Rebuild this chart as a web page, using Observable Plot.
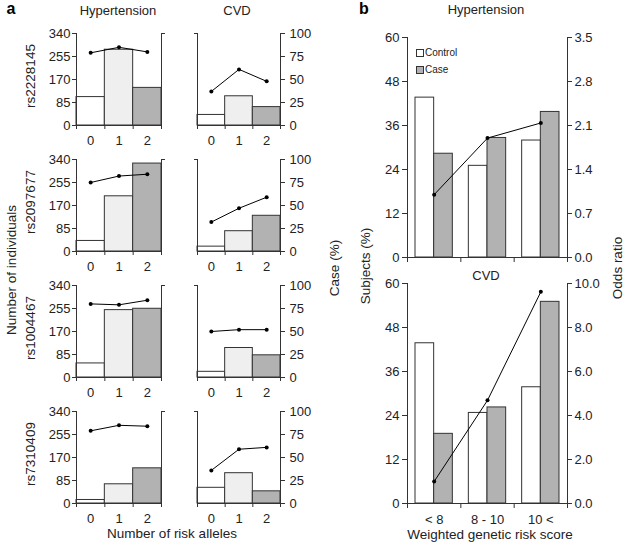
<!DOCTYPE html>
<html><head><meta charset="utf-8">
<script src="https://cdn.jsdelivr.net/npm/d3@7"></script>
<script src="https://cdn.jsdelivr.net/npm/@observablehq/plot@0.6"></script>
<style>
body{margin:0;background:#fff;}
#fig{position:relative;width:627px;height:544px;font-family:"Liberation Sans",Arial,sans-serif;color:#222;overflow:hidden;background:#fff}
.t{position:absolute;white-space:nowrap;font-size:13px;transform:translate(-50%,-50%);line-height:1}
.r{transform:translate(-50%,-50%) rotate(-90deg)}
.b{font-weight:bold;font-size:16px;color:#000}
#fig svg{position:absolute;overflow:visible}
.lg{position:absolute;font-size:10px;line-height:1;white-space:nowrap;transform:translateY(-50%)}
.sq{position:absolute;width:6px;height:6px;border:1px solid #333;transform:translateY(-50%)}
</style></head><body><div id="fig"></div>
<script>
// ---- Data ----
const snps = ["rs2228145", "rs2097677", "rs1004467", "rs7310409"];
const alleles = ["0", "1", "2"];
const hyperCounts = [[105, 280, 139], [39, 204, 325], [52, 249, 254], [13, 71, 130]];
const hyperCase = [[79, 85, 80], [75, 82, 84], [80, 79, 84], [79, 85, 84]];
const cvdCounts = [[39, 108, 68], [18, 75, 132], [21, 109, 82], [58, 112, 45]];
const cvdCase = [[37, 61, 48], [32, 47, 59], [50, 52, 52], [36, 59, 61]];
const countTicks = [0, 85, 170, 255, 340];
const caseTicks = [0, 25, 50, 75, 100];

const scoreGroups = ["< 8", "8 - 10", "10 <"];
const hyperControlPct = [43.6, 25.0, 31.9];
const hyperCasePct = [28.3, 32.6, 39.7];
const hyperOR = [1.0, 1.90, 2.14];
const cvdControlPct = [43.7, 24.7, 31.7];
const cvdCasePct = [19.0, 26.2, 55.0];
const cvdOR = [1.0, 4.69, 9.62];
const pctTicks = [0, 12, 24, 36, 48, 60];
const hyperORTicks = [0, 0.7, 1.4, 2.1, 2.8, 3.5];
const cvdORTicks = [0, 2, 4, 6, 8, 10];

// ---- Drawing ----
const fig = document.getElementById("fig");
const FONT = '"Liberation Sans", Arial, sans-serif';
const AX = "#333";
const styleBase = {background: "transparent", fontFamily: FONT, fontSize: "13px", color: "#222", overflow: "visible"};

function place(svg, left, top) {
  svg.style.left = left + "px";
  svg.style.top = top + "px";
  fig.appendChild(svg);
}
function text(str, x, y, cls = "", extra = "") {
  const d = document.createElement("div");
  d.className = "t " + cls;
  d.textContent = str;
  d.style.left = x + "px";
  d.style.top = y + "px";
  if (extra) d.style.cssText += extra;
  fig.appendChild(d);
}

function cell(counts, pct, side, fx0, fx1, fy0, fy1) {
  const mL = 40, mR = 40, mT = 8, mB = 28;
  const k = 340 / 100;
  const data = counts.map((v, i) => ({i, v, p: pct[i]}));
  const fills = ["#ffffff", "#efefef", "#b2b2b2"];
  const marks = [
    Plot.rectY(data, {x1: d => d.i, x2: d => d.i + 1, y1: 0, y2: d => d.v, fill: d => fills[d.i], stroke: AX, strokeWidth: 1}),
    Plot.ruleX([0, 3], {stroke: AX}),
    Plot.ruleY([0], {stroke: AX}),
    Plot.axisX({ticks: [0, 1, 2, 3], tickSize: 4, tickFormat: () => "", stroke: AX}),
    Plot.axisX({ticks: [0.5, 1.5, 2.5], tickSize: 0, tickPadding: 10, tickFormat: d => alleles[Math.floor(d)]}),
    Plot.line(data, {x: d => d.i + 0.5, y: d => d.p * k, stroke: "#000", strokeWidth: 1}),
    Plot.dot(data, {x: d => d.i + 0.5, y: d => d.p * k, r: 2, fill: "#000"})
  ];
  if (side === "left") {
    marks.push(Plot.axisY({anchor: "left", ticks: countTicks, tickSize: 4, tickPadding: 2, stroke: AX}));
    marks.push(Plot.axisY({anchor: "right", ticks: [340], tickSize: 3, tickFormat: () => "", stroke: AX}));
  } else {
    marks.push(Plot.axisY({anchor: "right", ticks: caseTicks.map(v => v * k), tickSize: 4, tickPadding: 5, stroke: AX, tickFormat: d => String(Math.round(d / k))}));
    marks.push(Plot.axisY({anchor: "left", ticks: [340], tickSize: 3, tickFormat: () => "", stroke: AX}));
  }
  const fw = fx1 - fx0, fh = fy1 - fy0;
  const svg = Plot.plot({
    width: fw + mL + mR, height: fh + mT + mB,
    marginLeft: mL, marginRight: mR, marginTop: mT, marginBottom: mB,
    x: {domain: [0, 3], label: null},
    y: {domain: [0, 340], label: null},
    color: {type: "identity"},
    style: styleBase,
    marks
  });
  place(svg, fx0 - mL, fy0 - mT);
}

const rowTops = [33, 159, 285, 411];
const FH = 92;
rowTops.forEach((top, r) => {
  cell(hyperCounts[r], hyperCase[r], "left", 76, 161, top, top + FH);
  cell(cvdCounts[r], cvdCase[r], "right", 197, 280, top, top + FH);
  text(snps[r], 31, top + FH / 2 - 3, "r", "font-size:13.5px");
});

function panelB(ctrl, cas, or, orMax, orTicks, fy0, fy1, showLabels) {
  const mL = 40, mR = 40, mT = 8, mB = 30;
  const fx0 = 407, fx1 = 567;
  const k = 60 / orMax;
  const data = ctrl.map((c, i) => ({i, c, s: cas[i], o: or[i]}));
  const marks = [
    Plot.rectY(data, {x1: d => d.i + 0.15, x2: d => d.i + 0.5, y1: 0, y2: d => d.c, fill: "#ffffff", stroke: AX}),
    Plot.rectY(data, {x1: d => d.i + 0.5, x2: d => d.i + 0.85, y1: 0, y2: d => d.s, fill: "#b2b2b2", stroke: AX}),
    Plot.ruleX([0, 3], {stroke: AX}),
    Plot.ruleY([0], {stroke: AX}),
    Plot.axisX({ticks: [0, 1, 2, 3], tickSize: 5, tickFormat: () => "", stroke: AX}),
    Plot.line(data, {x: d => d.i + 0.5, y: d => d.o * k, stroke: "#000", strokeWidth: 1}),
    Plot.dot(data, {x: d => d.i + 0.5, y: d => d.o * k, r: 2, fill: "#000"}),
    Plot.axisY({anchor: "left", ticks: pctTicks, tickSize: 5, tickPadding: 3, stroke: AX}),
    Plot.axisY({anchor: "right", ticks: orTicks.map(v => v * k), tickSize: 4, tickPadding: 3, stroke: AX, tickFormat: d => (d / k).toFixed(1)})
  ];
  if (showLabels) {
    marks.push(Plot.axisX({ticks: [0.5, 1.5, 2.5], tickSize: 0, tickPadding: 11, tickFormat: d => scoreGroups[Math.floor(d)]}));
  }
  const svg = Plot.plot({
    width: fx1 - fx0 + mL + mR, height: fy1 - fy0 + mT + mB,
    marginLeft: mL, marginRight: mR, marginTop: mT, marginBottom: mB,
    x: {domain: [0, 3], label: null},
    y: {domain: [0, 60], label: null},
    style: styleBase,
    marks
  });
  place(svg, fx0 - mL, fy0 - mT);
}

panelB(hyperControlPct, hyperCasePct, hyperOR, 3.5, hyperORTicks, 37, 257, false);
panelB(cvdControlPct, cvdCasePct, cvdOR, 10, cvdORTicks, 282.5, 502.5, true);

// ---- Texts ----
text("a", 11, 9, "b");
text("b", 364, 9, "b");
text("Hypertension", 118, 10);
text("CVD", 237, 10);
text("Hypertension", 486, 9);
text("CVD", 486, 275);
text("Number of individuals", 12, 270, "r", "font-size:13.5px");
text("Number of risk alleles", 172, 534, "", "font-size:13.5px");
text("Weighted genetic risk score", 490, 535, "", "font-size:13.5px");
text("Case (%)", 335, 268, "r", "font-size:13.5px");
text("Subjects (%)", 366, 266, "r", "font-size:13.5px");
text("Odds ratio", 618, 268, "r", "font-size:13.5px");

// legend
function legendItem(label, color, y) {
  const s = document.createElement("div");
  s.className = "sq";
  s.style.left = "416px";
  s.style.top = y + "px";
  s.style.background = color;
  fig.appendChild(s);
  const l = document.createElement("div");
  l.className = "lg";
  l.textContent = label;
  l.style.left = "425px";
  l.style.top = y + "px";
  fig.appendChild(l);
}
legendItem("Control", "#ffffff", 52.5);
legendItem("Case", "#b2b2b2", 70);
</script></body></html>
